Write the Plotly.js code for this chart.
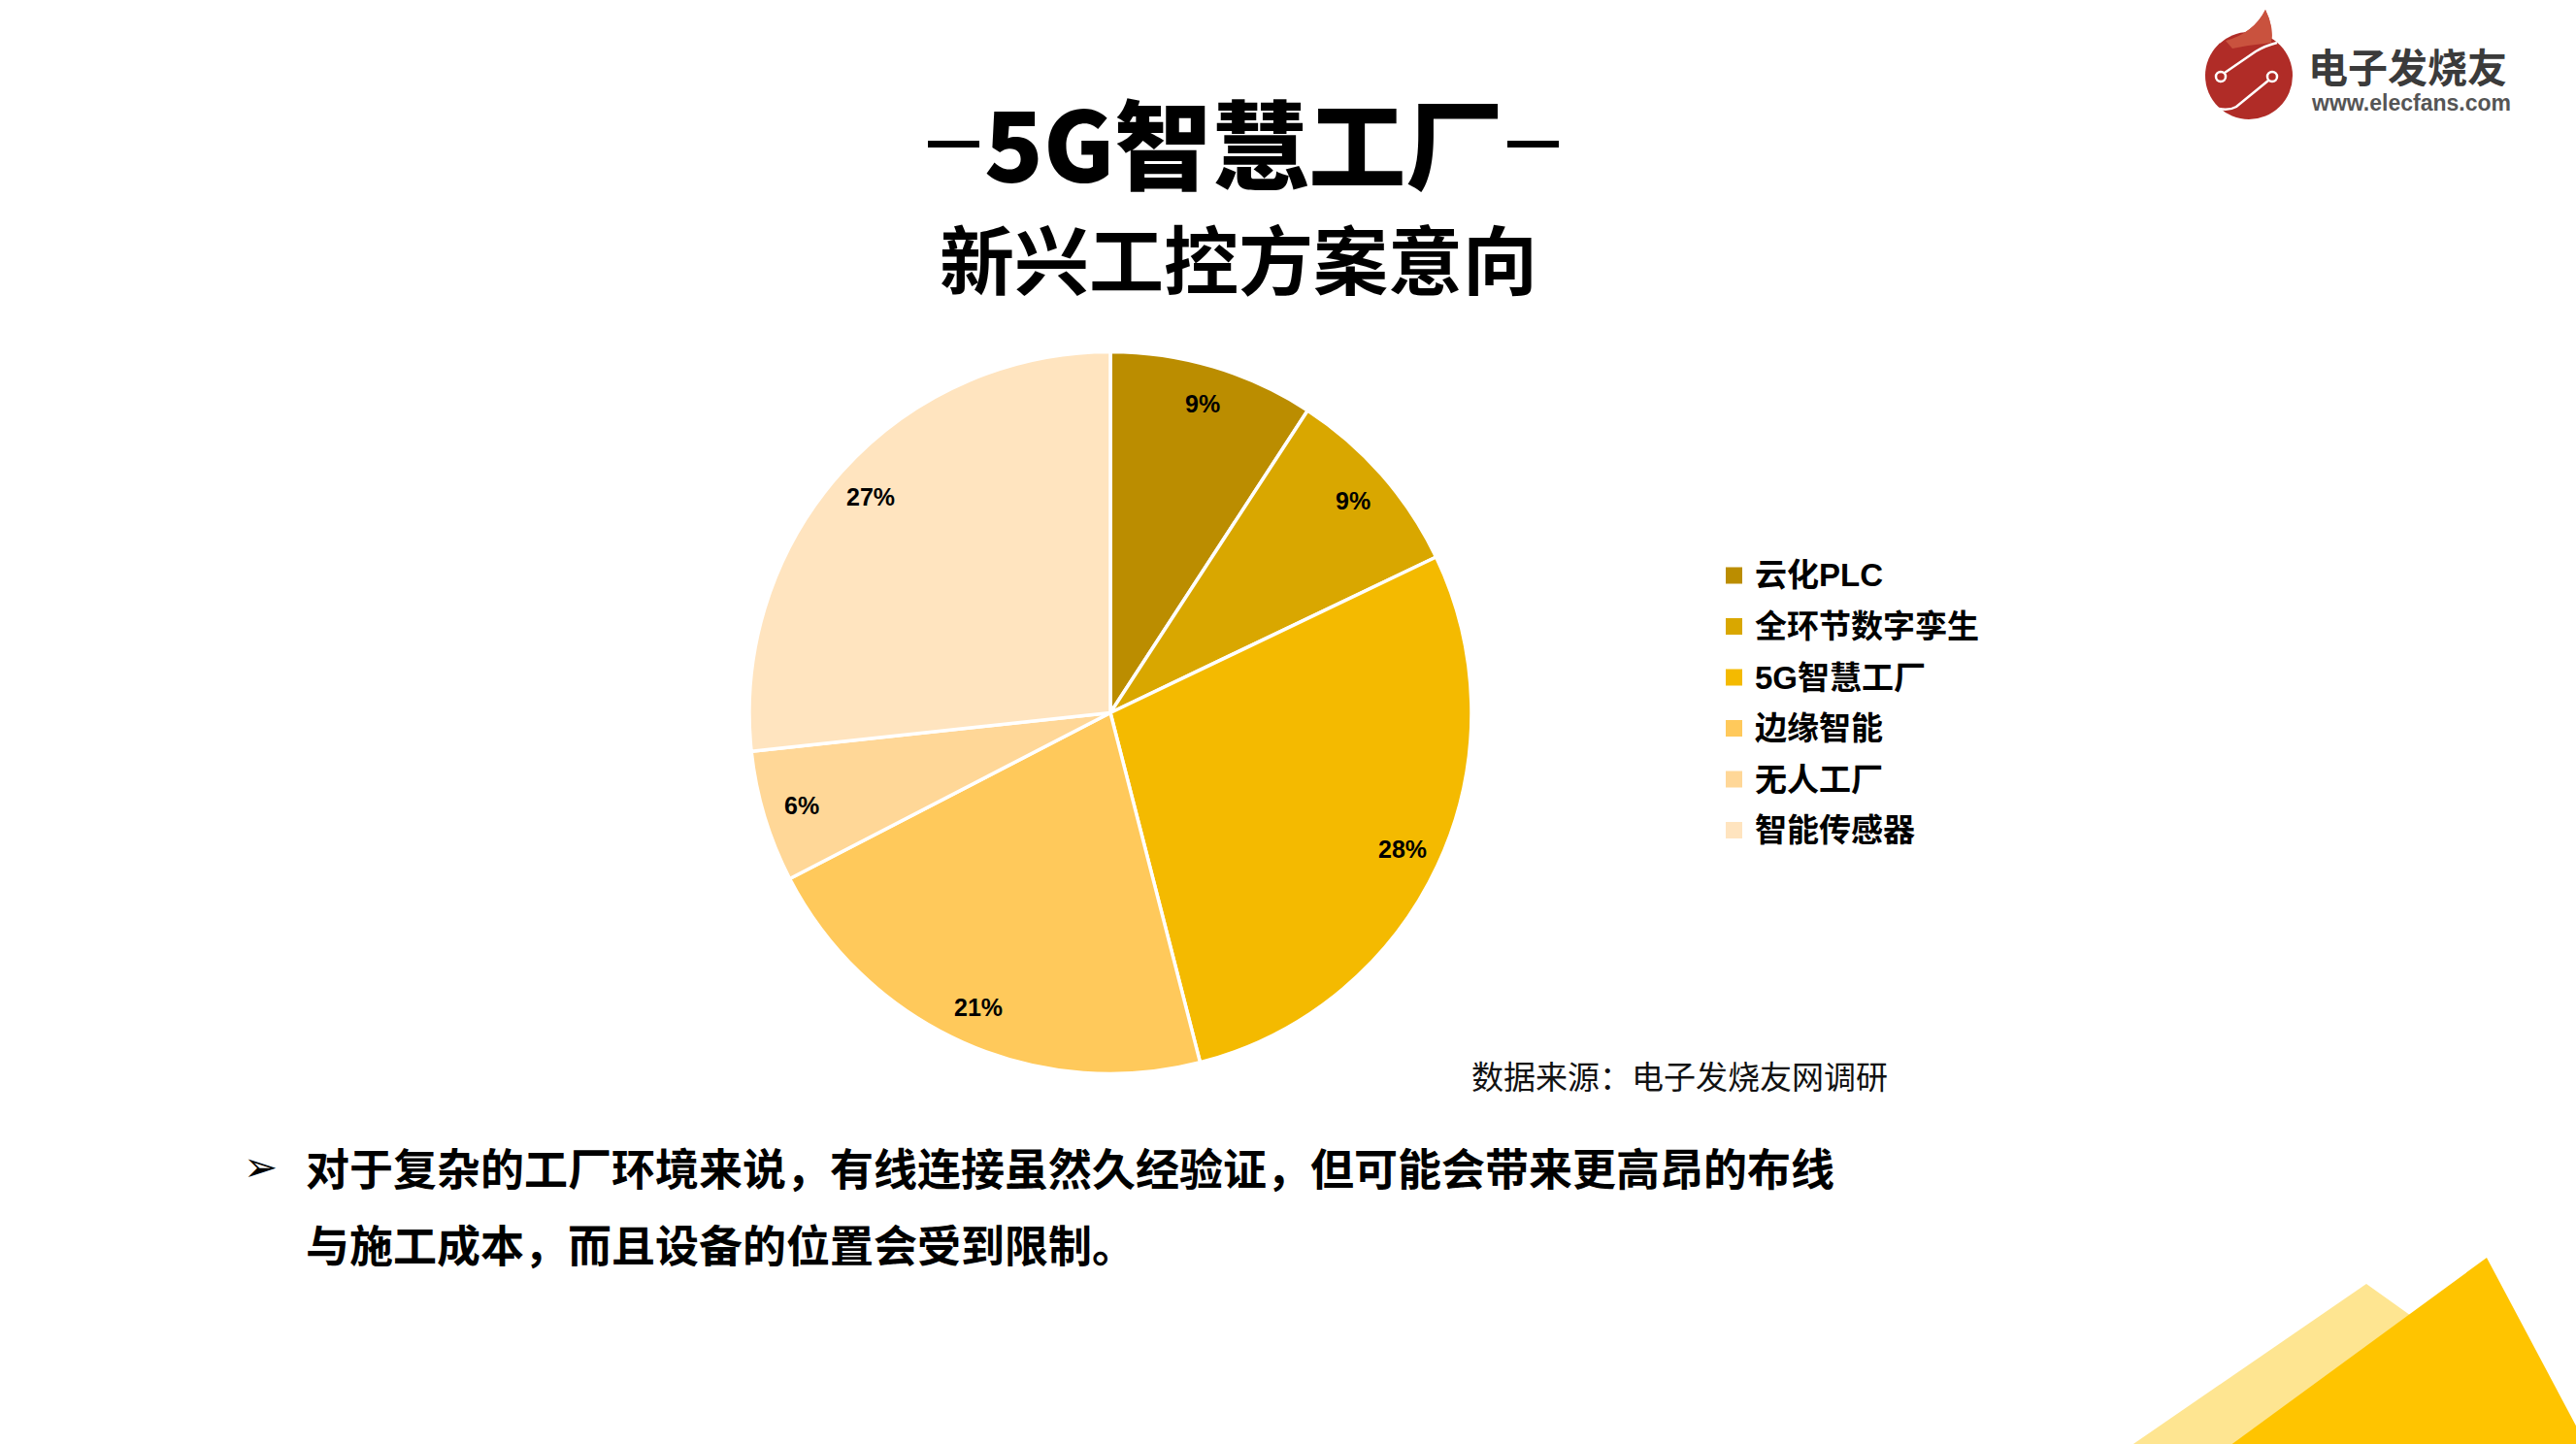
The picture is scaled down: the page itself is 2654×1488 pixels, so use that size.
<!DOCTYPE html>
<html>
<head>
<meta charset="utf-8">
<script src="https://cdn.plot.ly/plotly-3.0.1.min.js"></script>
<style>
  html, body { margin: 0; padding: 0; background: #ffffff; }
  #chart { width: 2654px; height: 1488px; }
</style>
</head>
<body>
<div id="chart"></div>
<script>
// ---------------- data ----------------
const categories = ['云化PLC', '全环节数字孪生', '5G智慧工厂', '边缘智能', '无人工厂', '智能传感器'];
const shareValues = [9.2, 8.7, 28.1, 21.4, 5.9, 26.7];
const sliceColors = ['#BB8D00', '#D9A700', '#F4BA00', '#FFC95B', '#FFD797', '#FFE4BF'];
const titleMain = '5G智慧工厂';
const titleSub = '新兴工控方案意向';
const sourceNote = '数据来源：电子发烧友网调研';
const bulletLines = [
  '对于复杂的工厂环境来说，有线连接虽然久经验证，但可能会带来更高昂的布线',
  '与施工成本，而且设备的位置会受到限制。'
];
const logoName = '电子发烧友';
const logoUrl = 'www.elecfans.com';

// ---------------- helpers ----------------
const W = 2654, H = 1488;
const px = x => x / W;
const py = y => 1 - y / H;
const P = (x, y) => px(x) + ',' + py(y);
const CJK = '"Noto Sans CJK SC", "Noto Sans", sans-serif';
const MIX = '"Liberation Sans", Arial, "Noto Sans CJK SC", sans-serif';

// pie geometry (pixels)
const cx = 1144, cy = 734.5, R = 372;

const pie = {
  type: 'pie',
  labels: categories,
  values: shareValues,
  sort: false,
  direction: 'clockwise',
  rotation: 0,
  marker: { colors: sliceColors, line: { color: '#ffffff', width: 3.5 } },
  textinfo: 'none',
  hoverinfo: 'label+percent',
  showlegend: false,
  domain: { x: [px(cx - R), px(cx + R)], y: [py(cy + R), py(cy - R)] }
};

const annotations = [];
const shapes = [];

// slice percentage labels (computed from the values)
const total = shareValues.reduce((a, b) => a + b, 0);
let cum = 0;
shareValues.forEach(v => {
  const mid = (cum + v / 2) / total * 2 * Math.PI;
  cum += v;
  const rr = 0.893 * R;
  annotations.push({
    x: px(cx + rr * Math.sin(mid)), y: py(cy - rr * Math.cos(mid)),
    xref: 'paper', yref: 'paper', showarrow: false,
    xanchor: 'center', yanchor: 'middle',
    text: Math.round(v / total * 100) + '%',
    font: { family: MIX, size: 25, color: '#000000', weight: 700 }
  });
});

// legend
categories.forEach((c, i) => {
  const yc = 593 + i * 52.5;
  shapes.push({
    type: 'rect', xref: 'paper', yref: 'paper',
    x0: px(1778), x1: px(1795), y0: py(yc + 8.5), y1: py(yc - 8.5),
    fillcolor: sliceColors[i], line: { width: 0 }
  });
  annotations.push({
    x: px(1806), y: py(yc), xref: 'paper', yref: 'paper', showarrow: false,
    xanchor: 'left', yanchor: 'middle', text: c,
    font: { family: MIX, size: 33, color: '#000000', weight: 700 }
  });
});

// titles
annotations.push({
  x: px(1280.5), y: py(144), xref: 'paper', yref: 'paper', showarrow: false,
  xanchor: 'center', yanchor: 'middle', text: titleMain,
  font: { family: CJK, size: 100, color: '#000000', weight: 900 }
});
shapes.push({ type: 'line', xref: 'paper', yref: 'paper', x0: px(956), x1: px(1009), y0: py(148.5), y1: py(148.5), line: { color: '#000000', width: 7 } });
shapes.push({ type: 'line', xref: 'paper', yref: 'paper', x0: px(1553), x1: px(1606), y0: py(148.5), y1: py(148.5), line: { color: '#000000', width: 7 } });
annotations.push({
  x: px(1276), y: py(264), xref: 'paper', yref: 'paper', showarrow: false,
  xanchor: 'center', yanchor: 'middle', text: titleSub,
  font: { family: CJK, size: 77, color: '#000000', weight: 700 }
});

// source note
annotations.push({
  x: px(1730), y: py(1108), xref: 'paper', yref: 'paper', showarrow: false,
  xanchor: 'center', yanchor: 'middle', text: sourceNote,
  font: { family: CJK, size: 33, color: '#111111', weight: 400 }
});

// bullet text
annotations.push({
  x: px(268), y: py(1202), xref: 'paper', yref: 'paper', showarrow: false,
  xanchor: 'center', yanchor: 'middle', text: '➢',
  font: { family: '"DejaVu Sans", sans-serif', size: 42, color: '#000000' }
});
bulletLines.forEach((t, i) => {
  annotations.push({
    x: px(313), y: py(1202 + i * 79), xref: 'paper', yref: 'paper', showarrow: false,
    xanchor: 'left', yanchor: 'middle', text: t,
    font: { family: CJK, size: 45, color: '#000000', weight: 700 }
  });
});

// logo
shapes.push({ type: 'path', xref: 'paper', yref: 'paper',
  path: 'M' + P(2293, 42) + ' Q' + P(2322, 34) + ' ' + P(2334, 10) + ' Q' + P(2343, 28) + ' ' + P(2340, 46) + ' L' + P(2318, 60) + ' Z',
  fillcolor: '#CC5540', line: { width: 0 } });
shapes.push({ type: 'circle', xref: 'paper', yref: 'paper',
  x0: px(2272), x1: px(2362), y0: py(123), y1: py(33),
  fillcolor: '#B02C27', line: { width: 0 } });
shapes.push({ type: 'path', xref: 'paper', yref: 'paper',
  path: 'M' + P(2293, 42) + ' Q' + P(2322, 34) + ' ' + P(2334, 10) + ' Q' + P(2343, 28) + ' ' + P(2340, 44) + ' Q' + P(2320, 46) + ' ' + P(2300, 50) + ' Z',
  fillcolor: '#C9523E', line: { width: 0 } });
shapes.push({ type: 'path', xref: 'paper', yref: 'paper',
  path: 'M' + P(2292, 75) + ' L' + P(2324, 53) + ' Q' + P(2334, 47) + ' ' + P(2346, 44),
  line: { color: '#ffffff', width: 2.5 } });
shapes.push({ type: 'path', xref: 'paper', yref: 'paper',
  path: 'M' + P(2337, 83) + ' L' + P(2304, 110) + ' Q' + P(2297, 114) + ' ' + P(2286, 112),
  line: { color: '#ffffff', width: 2.5 } });
[[2288, 79], [2341, 79]].forEach(([x, y]) => {
  shapes.push({ type: 'circle', xref: 'paper', yref: 'paper',
    x0: px(x - 5), x1: px(x + 5), y0: py(y + 5), y1: py(y - 5),
    fillcolor: '#B02C27', line: { color: '#ffffff', width: 2.5 } });
});
annotations.push({
  x: px(2376), y: py(67), xref: 'paper', yref: 'paper', showarrow: false,
  xanchor: 'left', yanchor: 'middle', text: logoName,
  font: { family: CJK, size: 41, color: '#3b3b3b', weight: 700 }
});
annotations.push({
  x: px(2379), y: py(106), xref: 'paper', yref: 'paper', showarrow: false,
  xanchor: 'left', yanchor: 'middle', text: logoUrl,
  font: { family: '"Liberation Sans", Arial, sans-serif', size: 23, color: '#555555', weight: 700 }
});

// decorative triangles (bottom right)
shapes.push({ type: 'path', xref: 'paper', yref: 'paper',
  path: 'M' + P(2195, 1490) + ' L' + P(2438, 1323) + ' L' + P(2672, 1490) + ' Z',
  fillcolor: '#FEE591', line: { width: 0 } });
shapes.push({ type: 'path', xref: 'paper', yref: 'paper',
  path: 'M' + P(2297, 1490) + ' L' + P(2562, 1296) + ' L' + P(2665, 1490) + ' Z',
  fillcolor: '#FFC400', line: { width: 0 } });

const layout = {
  width: W, height: H,
  margin: { l: 0, r: 0, t: 0, b: 0, pad: 0 },
  paper_bgcolor: '#ffffff', plot_bgcolor: '#ffffff',
  showlegend: false,
  annotations: annotations,
  shapes: shapes
};

Plotly.newPlot('chart', [pie], layout, { displayModeBar: false, staticPlot: true });
</script>
</body>
</html>
